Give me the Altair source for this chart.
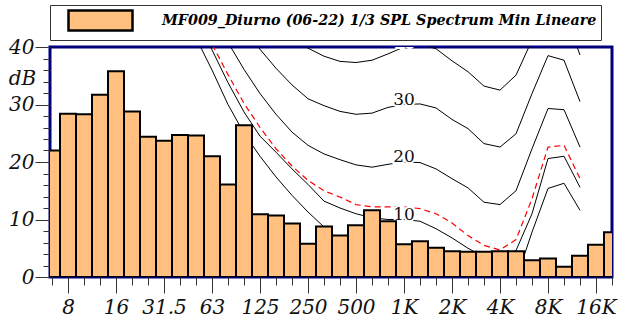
import json

import altair as alt
import pandas as pd

SERIES = "MF009_Diurno (06-22) 1/3 SPL Spectrum Min Lineare"

# 1/3-octave bands, 6.3 Hz .. 20 kHz
bands = ["6.3", "8", "10", "12.5", "16", "20", "25", "31.5", "40", "50",
         "63", "80", "100", "125", "160", "200", "250", "315", "400", "500",
         "630", "800", "1K", "1.25K", "1.6K", "2K", "2.5K", "3.15K", "4K", "5K",
         "6.3K", "8K", "10K", "12.5K", "16K", "20K"]

# minimum linear SPL per band, dB
spl = [22.0, 28.4, 28.3, 31.7, 35.8, 28.8, 24.4, 23.7, 24.7, 24.6,
       21.0, 16.1, 26.4, 10.9, 10.7, 9.3, 5.8, 8.8, 7.2, 9.0,
       11.6, 9.7, 5.7, 6.2, 5.1, 4.5, 4.4, 4.4, 4.5, 4.5,
       2.9, 3.2, 1.8, 3.7, 5.6, 7.8]

# equal-loudness reference curves, one value per band from 40 Hz to 12.5 kHz
contour_first_band = 8
threshold = [48.0, 41.6, 36.0, 30.0, 25.0, 21.0, 17.4, 14.2, 11.3, 8.7,
             6.0, 5.5, 5.0, 4.5, 4.5, 5.0, 3.5, 1.0, -1.5, -3.0,
             -2.5, -0.5, 7.8, 15.4, 16.3, 11.6]
phon10 = [53.0, 46.0, 39.5, 33.8, 28.7, 24.5, 21.7, 18.8, 16.1, 13.2,
          12.0, 11.0, 10.3, 10.0, 10.0, 9.7, 8.4, 6.8, 5.0, 3.5,
          3.5, 4.6, 11.0, 20.6, 21.0, 15.6]
phon20 = [59.0, 52.0, 46.0, 40.8, 36.1, 31.9, 28.3, 25.2, 22.9, 21.4,
          20.4, 19.5, 19.1, 19.6, 20.0, 19.9, 18.8, 17.1, 15.5, 13.0,
          12.6, 15.0, 22.3, 29.3, 29.1, 22.6]
phon30 = [66.0, 59.0, 53.0, 47.5, 44.0, 39.6, 36.3, 33.4, 31.0, 29.8,
          28.8, 28.3, 28.5, 29.5, 30.0, 30.1, 29.4, 27.4, 25.8, 23.2,
          22.6, 24.9, 31.9, 38.5, 37.7, 30.5]
phon40 = [73.0, 66.0, 60.0, 55.0, 50.5, 46.5, 43.5, 41.5, 39.8, 38.4,
          37.5, 37.3, 37.7, 38.8, 40.0, 40.5, 39.7, 37.6, 35.7, 33.2,
          32.5, 35.1, 41.2, 47.5, 46.4, 38.6]
dashed_curve = [55.0, 47.0, 40.5, 35.2, 30.2, 26.0, 22.3, 19.3, 16.8, 15.0,
                13.9, 12.6, 12.2, 12.2, 12.2, 11.9, 11.0, 9.4, 7.2, 5.5,
                4.7, 6.5, 13.6, 22.6, 22.9, 17.1]

contour_levels = [10, 20, 30, 40]
label_band = bands.index("1K")

SERIF = "DejaVu Serif"
NAVY = "#00007f"

bars = pd.DataFrame({"band": range(len(bands)), "spl": spl})
bars["lo"] = bars["band"] - 0.5
bars["hi"] = bars["band"] + 0.5
bars["series"] = SERIES


def curve_frame(name, values):
    return pd.DataFrame({
        "curve": name,
        "band": range(contour_first_band, contour_first_band + len(values)),
        "db": values,
    })


solid = pd.concat([
    curve_frame("threshold", threshold),
    curve_frame("10", phon10),
    curve_frame("20", phon20),
    curve_frame("30", phon30),
    curve_frame("40", phon40),
])
dashed = curve_frame("dashed", dashed_curve)
labels = pd.DataFrame({"band": label_band, "db": contour_levels,
                       "text": [str(v) for v in contour_levels]})

x_scale = alt.Scale(domain=[-0.125, len(bands) - 1], nice=False, zero=False)
y_scale = alt.Scale(domain=[0, 40], nice=False)

x_axis = alt.Axis(
    values=list(range(len(bands))),
    labelExpr=f"datum.value % 3 == 1 ? {json.dumps(bands)}[datum.value] : ''",
    tickSize={"condition": {"test": "datum.value % 3 == 1", "value": 16}, "value": 8},
    tickColor="#333333",
    domain=False,
    grid=False,
    title=None,
    labelFont=SERIF,
    labelFontStyle="italic",
    labelFontSize=20,
    labelColor="#111111",
    labelOverlap=False,
    labelBound=False,
    labelFlush=False,
    labelPadding=4,
)
y_axis = alt.Axis(
    values=list(range(0, 41, 2)),
    labelExpr="datum.value % 10 == 0 ? datum.label : ''",
    tickSize={"condition": {"test": "datum.value % 10 == 0", "value": 15}, "value": 7},
    tickColor="#333333",
    domain=False,
    grid=False,
    title="dB",
    titleAngle=0,
    titleX=-28,
    titleY=31,
    titleAlign="center",
    titleBaseline="middle",
    titleFont=SERIF,
    titleFontStyle="italic",
    titleFontWeight="normal",
    titleFontSize=20,
    titleColor="#111111",
    labelFont=SERIF,
    labelFontStyle="italic",
    labelFontSize=20,
    labelColor="#111111",
    labelOverlap=False,
    labelBound=False,
    labelFlush=False,
    labelPadding=1,
)

X = lambda field: alt.X(field, scale=x_scale, axis=x_axis)
Y = lambda field: alt.Y(field, scale=y_scale, axis=y_axis)

lines = alt.Chart(solid).mark_line(color="black", strokeWidth=1, clip=True).encode(
    x=X("band:Q"), y=Y("db:Q"), detail="curve:N",
)
red = alt.Chart(dashed).mark_line(color="#ff0000", strokeWidth=1.2, strokeDash=[6, 4],
                                  clip=True).encode(x=X("band:Q"), y=Y("db:Q"))
halo = alt.Chart(labels).mark_text(
    font=SERIF, fontSize=17, align="center", baseline="alphabetic",
    fill="white", stroke="white", strokeWidth=4, clip=True,
).encode(x=X("band:Q"), y=Y("db:Q"), text="text:N")
text = alt.Chart(labels).mark_text(
    font=SERIF, fontSize=17, align="center", baseline="alphabetic",
    color="#111111", clip=True,
).encode(x=X("band:Q"), y=Y("db:Q"), text="text:N")

legend = alt.Legend(
    title=None,
    orient="none",
    legendX=0,
    legendY=-42,
    direction="horizontal",
    symbolType="M-3.2,-1H3.2V1H-3.2Z",
    symbolSize=400,
    symbolStrokeColor="black",
    symbolStrokeWidth=2.5,
    symbolOpacity=1,
    symbolOffset=35,
    labelFont=SERIF,
    labelFontStyle="italic",
    labelFontWeight="bold",
    labelFontSize=14.3,
    labelColor="black",
    labelOffset=50,
    labelLimit=0,
    padding=4,
    strokeColor="#333333",
    fillColor="white",
)

bar_layer = alt.Chart(bars).mark_bar(stroke="black", strokeWidth=2, opacity=1,
                                     clip=True).encode(
    x=X("lo:Q"),
    x2="hi:Q",
    y=Y("spl:Q"),
    y2=alt.datum(0),
    color=alt.Color("series:N", scale=alt.Scale(range=["#ffc080"]), legend=legend),
)

chart = alt.layer(lines, red, halo, text, bar_layer).properties(
    width=562,
    height=230,
    autosize="none",
    padding={"left": 50, "top": 47, "right": 7, "bottom": 47},
    background="white",
).configure_view(
    stroke=NAVY, strokeWidth=3
).configure_axis(
    labelOverlap=False
)

chart.save("out.html", embed_options={"renderer": "svg", "actions": False})
